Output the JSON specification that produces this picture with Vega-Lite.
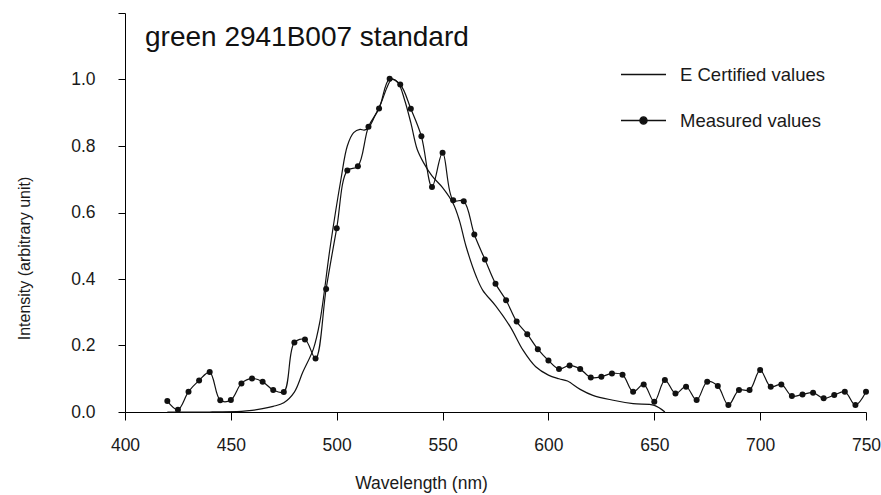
{
  "$schema": "https://vega.github.io/schema/vega-lite/v6.json",
  "width": 741,
  "height": 399,
  "autosize": {"type": "none"},
  "padding": {"left": 125, "top": 13, "right": 15, "bottom": 83},
  "background": "white",
  "config": {
    "view": {"stroke": null},
    "font": "Liberation Sans",
    "axis": {"grid": false, "domainColor": "#000", "tickColor": "#000", "labelColor": "#1a1a1a", "titleColor": "#1a1a1a", "labelFont": "Liberation Sans", "titleFont": "Liberation Sans", "titleFontWeight": "normal", "labelFontSize": 17.5, "domainWidth": 1, "tickWidth": 1}
  },
  "title": {
    "text": "green 2941B007 standard",
    "anchor": "start",
    "frame": "group",
    "orient": "top",
    "fontSize": 28,
    "fontWeight": "normal",
    "font": "Liberation Sans",
    "color": "#111",
    "baseline": "alphabetic",
    "dx": 20,
    "offset": -61
  },
  "data": {
    "values": [
      {"wl": 420, "v": 0.033, "s": "Measured values"},
      {"wl": 425, "v": 0.007, "s": "Measured values"},
      {"wl": 430, "v": 0.061, "s": "Measured values"},
      {"wl": 435, "v": 0.095, "s": "Measured values"},
      {"wl": 440, "v": 0.120, "s": "Measured values"},
      {"wl": 445, "v": 0.035, "s": "Measured values"},
      {"wl": 450, "v": 0.036, "s": "Measured values"},
      {"wl": 455, "v": 0.086, "s": "Measured values"},
      {"wl": 460, "v": 0.101, "s": "Measured values"},
      {"wl": 465, "v": 0.091, "s": "Measured values"},
      {"wl": 470, "v": 0.066, "s": "Measured values"},
      {"wl": 475, "v": 0.060, "s": "Measured values"},
      {"wl": 480, "v": 0.209, "s": "Measured values"},
      {"wl": 485, "v": 0.218, "s": "Measured values"},
      {"wl": 490, "v": 0.161, "s": "Measured values"},
      {"wl": 495, "v": 0.370, "s": "Measured values"},
      {"wl": 500, "v": 0.553, "s": "Measured values"},
      {"wl": 505, "v": 0.726, "s": "Measured values"},
      {"wl": 510, "v": 0.739, "s": "Measured values"},
      {"wl": 515, "v": 0.858, "s": "Measured values"},
      {"wl": 520, "v": 0.913, "s": "Measured values"},
      {"wl": 525, "v": 1.002, "s": "Measured values"},
      {"wl": 530, "v": 0.985, "s": "Measured values"},
      {"wl": 535, "v": 0.912, "s": "Measured values"},
      {"wl": 540, "v": 0.829, "s": "Measured values"},
      {"wl": 545, "v": 0.677, "s": "Measured values"},
      {"wl": 550, "v": 0.780, "s": "Measured values"},
      {"wl": 555, "v": 0.637, "s": "Measured values"},
      {"wl": 560, "v": 0.634, "s": "Measured values"},
      {"wl": 565, "v": 0.534, "s": "Measured values"},
      {"wl": 570, "v": 0.459, "s": "Measured values"},
      {"wl": 575, "v": 0.386, "s": "Measured values"},
      {"wl": 580, "v": 0.336, "s": "Measured values"},
      {"wl": 585, "v": 0.272, "s": "Measured values"},
      {"wl": 590, "v": 0.234, "s": "Measured values"},
      {"wl": 595, "v": 0.189, "s": "Measured values"},
      {"wl": 600, "v": 0.155, "s": "Measured values"},
      {"wl": 605, "v": 0.129, "s": "Measured values"},
      {"wl": 610, "v": 0.140, "s": "Measured values"},
      {"wl": 615, "v": 0.129, "s": "Measured values"},
      {"wl": 620, "v": 0.104, "s": "Measured values"},
      {"wl": 625, "v": 0.106, "s": "Measured values"},
      {"wl": 630, "v": 0.116, "s": "Measured values"},
      {"wl": 635, "v": 0.112, "s": "Measured values"},
      {"wl": 640, "v": 0.061, "s": "Measured values"},
      {"wl": 645, "v": 0.083, "s": "Measured values"},
      {"wl": 650, "v": 0.031, "s": "Measured values"},
      {"wl": 655, "v": 0.096, "s": "Measured values"},
      {"wl": 660, "v": 0.056, "s": "Measured values"},
      {"wl": 665, "v": 0.076, "s": "Measured values"},
      {"wl": 670, "v": 0.036, "s": "Measured values"},
      {"wl": 675, "v": 0.091, "s": "Measured values"},
      {"wl": 680, "v": 0.078, "s": "Measured values"},
      {"wl": 685, "v": 0.021, "s": "Measured values"},
      {"wl": 690, "v": 0.066, "s": "Measured values"},
      {"wl": 695, "v": 0.066, "s": "Measured values"},
      {"wl": 700, "v": 0.126, "s": "Measured values"},
      {"wl": 705, "v": 0.076, "s": "Measured values"},
      {"wl": 710, "v": 0.083, "s": "Measured values"},
      {"wl": 715, "v": 0.048, "s": "Measured values"},
      {"wl": 720, "v": 0.053, "s": "Measured values"},
      {"wl": 725, "v": 0.058, "s": "Measured values"},
      {"wl": 730, "v": 0.041, "s": "Measured values"},
      {"wl": 735, "v": 0.051, "s": "Measured values"},
      {"wl": 740, "v": 0.061, "s": "Measured values"},
      {"wl": 745, "v": 0.021, "s": "Measured values"},
      {"wl": 750, "v": 0.061, "s": "Measured values"},
      {"wl": 420, "v": 0.0, "s": "E Certified values"},
      {"wl": 440, "v": 0.0, "s": "E Certified values"},
      {"wl": 455, "v": 0.002, "s": "E Certified values"},
      {"wl": 460, "v": 0.005, "s": "E Certified values"},
      {"wl": 465, "v": 0.010, "s": "E Certified values"},
      {"wl": 470, "v": 0.017, "s": "E Certified values"},
      {"wl": 475, "v": 0.028, "s": "E Certified values"},
      {"wl": 480, "v": 0.060, "s": "E Certified values"},
      {"wl": 484, "v": 0.120, "s": "E Certified values"},
      {"wl": 489, "v": 0.190, "s": "E Certified values"},
      {"wl": 492, "v": 0.270, "s": "E Certified values"},
      {"wl": 497, "v": 0.500, "s": "E Certified values"},
      {"wl": 502, "v": 0.700, "s": "E Certified values"},
      {"wl": 505, "v": 0.800, "s": "E Certified values"},
      {"wl": 508, "v": 0.840, "s": "E Certified values"},
      {"wl": 511, "v": 0.850, "s": "E Certified values"},
      {"wl": 513, "v": 0.848, "s": "E Certified values"},
      {"wl": 515, "v": 0.855, "s": "E Certified values"},
      {"wl": 518, "v": 0.890, "s": "E Certified values"},
      {"wl": 521, "v": 0.930, "s": "E Certified values"},
      {"wl": 524, "v": 0.980, "s": "E Certified values"},
      {"wl": 526, "v": 1.000, "s": "E Certified values"},
      {"wl": 529, "v": 0.990, "s": "E Certified values"},
      {"wl": 532, "v": 0.940, "s": "E Certified values"},
      {"wl": 535, "v": 0.870, "s": "E Certified values"},
      {"wl": 538, "v": 0.790, "s": "E Certified values"},
      {"wl": 541, "v": 0.750, "s": "E Certified values"},
      {"wl": 545, "v": 0.710, "s": "E Certified values"},
      {"wl": 550, "v": 0.675, "s": "E Certified values"},
      {"wl": 555, "v": 0.627, "s": "E Certified values"},
      {"wl": 558, "v": 0.575, "s": "E Certified values"},
      {"wl": 561, "v": 0.500, "s": "E Certified values"},
      {"wl": 566, "v": 0.406, "s": "E Certified values"},
      {"wl": 569, "v": 0.366, "s": "E Certified values"},
      {"wl": 575, "v": 0.320, "s": "E Certified values"},
      {"wl": 582, "v": 0.256, "s": "E Certified values"},
      {"wl": 588, "v": 0.186, "s": "E Certified values"},
      {"wl": 594, "v": 0.136, "s": "E Certified values"},
      {"wl": 600, "v": 0.111, "s": "E Certified values"},
      {"wl": 605, "v": 0.100, "s": "E Certified values"},
      {"wl": 609, "v": 0.093, "s": "E Certified values"},
      {"wl": 615, "v": 0.068, "s": "E Certified values"},
      {"wl": 621, "v": 0.050, "s": "E Certified values"},
      {"wl": 630, "v": 0.036, "s": "E Certified values"},
      {"wl": 640, "v": 0.025, "s": "E Certified values"},
      {"wl": 650, "v": 0.020, "s": "E Certified values"},
      {"wl": 655, "v": 0.0, "s": "E Certified values"}
    ]
  },
  "encoding": {
    "x": {
      "field": "wl", "type": "quantitative",
      "scale": {"domain": [400, 750], "nice": false, "zero": false},
      "axis": {"values": [400, 450, 500, 550, 600, 650, 700, 750], "title": "Wavelength (nm)", "titleFontSize": 17.5, "tickSize": 8, "labelPadding": 16, "titleX": 296, "titleY": 76, "titleBaseline": "alphabetic", "titleAlign": "center", "labelFlush": false}
    },
    "y": {
      "field": "v", "type": "quantitative",
      "scale": {"domain": [0, 1.2], "nice": false},
      "axis": {"values": [0, 0.2, 0.4, 0.6, 0.8, 1.0, 1.2], "labelExpr": "datum.value > 1.1 ? '' : format(datum.value, '.1f')", "title": "Intensity (arbitrary unit)", "titleFontSize": 16, "tickSize": 7, "labelPadding": 23, "titleX": -96, "titleY": 245, "titleBaseline": "alphabetic", "titleAlign": "center", "labelFlush": false}
    }
  },
  "layer": [
    {
      "mark": {"type": "line", "interpolate": "catmull-rom", "strokeWidth": 1.2},
      "encoding": {
        "color": {
          "field": "s", "type": "nominal",
          "scale": {"domain": ["E Certified values", "Measured values"], "range": ["#111", "#111"]},
          "legend": {
            "title": null,
            "orient": "none",
            "legendX": 495,
            "legendY": 38,
            "padding": 0,
            "symbolSize": 2025,
            "rowPadding": 13,
            "labelOffset": 13,
            "labelFontSize": 18.5,
            "labelFont": "Liberation Sans",
            "labelColor": "#1a1a1a",
            "labelLimit": 300,
            "encode": {
              "symbols": {
                "update": {
                  "shape": {"signal": "datum.value === 'Measured values' ? 'M-1,0H1M-0.16,0A0.16,0.16 0 1,0 0.16,0A0.16,0.16 0 1,0 -0.16,0Z' : 'M-1,0H1'"},
                  "fill": {"signal": "datum.value === 'Measured values' ? '#111' : 'transparent'"},
                  "stroke": {"value": "#111"},
                  "strokeWidth": {"value": 1.3},
                  "size": {"value": 2025},
                  "opacity": {"value": 1}
                }
              }
            }
          }
        }
      }
    },
    {
      "transform": [{"filter": "datum.s === 'Measured values'"}],
      "mark": {"type": "point", "filled": true, "shape": "circle", "size": 36, "color": "#111", "opacity": 1}
    }
  ]
}
